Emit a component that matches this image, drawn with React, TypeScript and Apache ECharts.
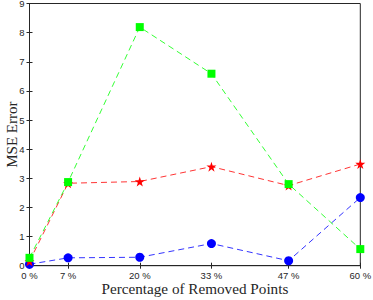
import React, { useEffect, useRef } from "react";
import * as echarts from "echarts";

const xValues = [0, 7, 20, 33, 47, 60];
const greenValues = [0.27, 2.87, 8.19, 6.59, 2.8, 0.57];
const redValues = [0.15, 2.83, 2.89, 3.4, 2.75, 3.49];
const blueValues = [0.05, 0.27, 0.29, 0.76, 0.17, 2.34];
const xTicks = [0, 7, 20, 33, 47, 60];

const pair = (vals: number[]) => vals.map((v, i) => [xValues[i], v]);

export default function App() {
  const ref = useRef<HTMLDivElement>(null);
  useEffect(() => {
    const chart = echarts.init(ref.current!, null, { renderer: "svg" });
    const axisColor = "#262626";
    const tickFont = { fontFamily: "Liberation Sans", fontSize: 9.5, color: "#262626" };
    const tick = { show: true, inside: true, length: 3, lineStyle: { color: axisColor } };
    const line = { show: true, lineStyle: { color: axisColor, width: 1 } };
    chart.setOption({
      animation: false,
      grid: {
        left: 29.5,
        right: 12.7,
        top: 3.5,
        bottom: 34.3,
        containLabel: false,
        outerBoundsMode: "none",
        show: true,
        borderColor: axisColor,
        borderWidth: 1,
      },
      xAxis: [
        {
          type: "value",
          min: 0,
          max: 60,
          position: "bottom",
          splitLine: { show: false },
          axisLine: line,
          axisTick: { ...tick, customValues: xTicks },
          axisLabel: { ...tickFont, margin: 5, customValues: xTicks, formatter: (v: number) => `${v} %` },
          name: "Percentage of Removed Points",
          nameLocation: "middle",
          nameGap: 15.5,
          nameMoveOverlap: false,
          nameTextStyle: { fontFamily: "Liberation Serif", fontSize: 15.2, color: "#262626" },
        },
        {
          type: "value",
          min: 0,
          max: 60,
          position: "top",
          splitLine: { show: false },
          axisLine: line,
          axisTick: { ...tick, customValues: xTicks },
          axisLabel: { show: false, customValues: xTicks },
        },
      ],
      yAxis: [
        {
          type: "value",
          min: 0,
          max: 9,
          interval: 1,
          position: "left",
          splitLine: { show: false },
          axisLine: line,
          axisTick: tick,
          axisLabel: { ...tickFont, margin: 5 },
          name: "MSE Error",
          nameLocation: "middle",
          nameGap: 10,
          nameMoveOverlap: false,
          nameTextStyle: { fontFamily: "Liberation Serif", fontSize: 15, color: "#262626" },
        },
        {
          type: "value",
          min: 0,
          max: 9,
          interval: 1,
          position: "right",
          splitLine: { show: false },
          axisLine: line,
          axisTick: tick,
          axisLabel: { show: false },
        },
      ],
      series: [
        {
          type: "line",
          data: pair(blueValues),
          symbol: "circle",
          symbolSize: 9,
          lineStyle: { color: "#0000ff", width: 0.8, type: [6, 4] },
          itemStyle: { color: "#0000ff" },
          z: 3,
        },
        {
          type: "line",
          data: pair(redValues),
          symbol: "path://M0,-1L0.2245,-0.309L0.951,-0.309L0.363,0.118L0.588,0.809L0,0.382L-0.588,0.809L-0.363,0.118L-0.951,-0.309L-0.2245,-0.309Z",
          symbolSize: 10,
          lineStyle: { color: "#ff0000", width: 0.8, type: [6, 4] },
          itemStyle: { color: "#ff0000" },
          z: 4,
        },
        {
          type: "line",
          data: pair(greenValues),
          symbol: "rect",
          symbolSize: 8,
          lineStyle: { color: "#00ff00", width: 0.8, type: [6, 4] },
          itemStyle: { color: "#00ff00" },
          z: 5,
        },
      ],
    });
    return () => chart.dispose();
  }, []);
  return <div ref={ref} style={{ width: 373, height: 300, position: "absolute", left: 0, top: 0 }} />;
}
